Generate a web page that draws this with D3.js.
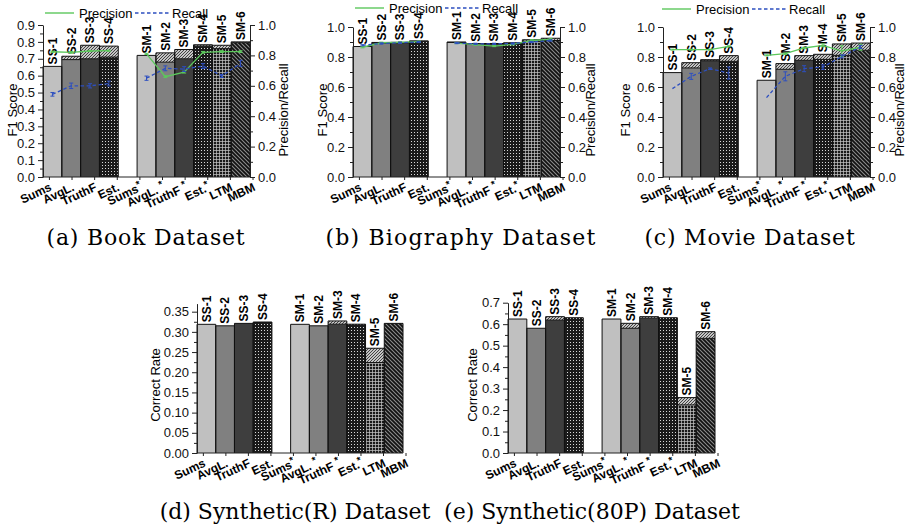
<!DOCTYPE html>
<html>
<head>
<meta charset="utf-8">
<script src="https://cdn.jsdelivr.net/npm/d3@7/dist/d3.min.js"></script>
<style>
body { margin: 0; background: #fff; }
</style>
</head>
<body>
<script>
// slot order on every x axis: 4 single-source bars, one empty slot, 6 multi-source bars
var slots = ["SS-1", "SS-2", "SS-3", "SS-4", "", "SM-1", "SM-2", "SM-3", "SM-4", "SM-5", "SM-6"];
var xLabels = ["Sums", "AvgL.", "TruthF", "Est.", "Sums", "AvgL. ", "TruthF ", "Est.", "LTM", "MBM"];
var xStar = [0, 0, 0, 0, 1, 1, 1, 1, 0, 0];

// (a) Book dataset: F1 (lower part / top of range) and precision, recall
var bookBase = [0.655, 0.695, 0.70, 0.71, null, 0.72, 0.68, 0.70, 0.775, 0.76, 0.795];
var bookTop = [0.655, 0.715, 0.78, 0.775, null, 0.72, 0.735, 0.755, 0.783, 0.78, 0.80];
var bookPrec = [0.824, 0.82, 0.829, 0.831, null, 0.81, 0.66, 0.69, 0.82, 0.825, 0.825];
var bookPrecErr = [0.004, 0.006, 0.004, 0.004, null, 0.004, 0.006, 0.006, 0.006, 0.006, 0.006];
var bookRec = [0.544, 0.60, 0.60, 0.615, null, 0.65, 0.715, 0.71, 0.73, 0.665, 0.748];
var bookRecErr = [0.012, 0.018, 0.014, 0.016, null, 0.014, 0.016, 0.016, 0.016, 0.01, 0.02];

// (b) Biography dataset
var bioBase = [0.87, 0.892, 0.895, 0.905, null, 0.897, 0.886, 0.888, 0.89, 0.905, 0.91];
var bioTop = [0.87, 0.897, 0.898, 0.907, null, 0.90, 0.889, 0.89, 0.895, 0.915, 0.925];
var bioPrec = [0.865, 0.895, 0.898, 0.903, null, 0.893, 0.882, 0.873, 0.884, 0.91, 0.918];
var bioPrecErr = [0.004, 0.004, 0.004, 0.004, null, 0.004, 0.004, 0.004, 0.004, 0.006, 0.006];
var bioRec = [0.878, 0.89, 0.895, 0.90, null, 0.893, 0.888, 0.888, 0.89, 0.90, 0.91];
var bioRecErr = [0.004, 0.004, 0.004, 0.004, null, 0.004, 0.004, 0.004, 0.004, 0.004, 0.004];

// (c) Movie dataset
var movieBase = [0.696, 0.727, 0.775, 0.771, null, 0.645, 0.718, 0.778, 0.784, 0.811, 0.845];
var movieTop = [0.696, 0.762, 0.782, 0.809, null, 0.645, 0.756, 0.809, 0.818, 0.887, 0.893];
var moviePrec = [0.849, 0.849, 0.849, 0.871, null, 0.811, 0.822, 0.86, 0.878, 0.84, 0.865];
var moviePrecErr = [0.003, 0.003, 0.003, 0.004, null, 0.003, 0.005, 0.005, 0.01, 0.035, 0.02];
var movieRec = [0.589, 0.671, 0.722, 0.693, null, 0.529, 0.671, 0.722, 0.733, 0.804, 0.867];
var movieRecErr = [0, 0.02, 0.005, 0.04, null, 0, 0.03, 0.02, 0.015, 0.01, 0.01];

// (d) Synthetic(R) and (e) Synthetic(80P): correct rate
var synRBase = [0.3187, 0.315, 0.321, 0.3244, null, 0.3187, 0.315, 0.319, 0.319, 0.224, 0.321];
var synRTop = [0.3187, 0.315, 0.321, 0.3244, null, 0.3187, 0.315, 0.327, 0.319, 0.2594, 0.321];
var syn80Base = [0.624, 0.581, 0.619, 0.630, null, 0.624, 0.581, 0.628, 0.630, 0.224, 0.534];
var syn80Top = [0.624, 0.581, 0.635, 0.630, null, 0.624, 0.604, 0.635, 0.630, 0.258, 0.565];

// tick values
var ticksBook = [0, 0.1, 0.2, 0.3, 0.4, 0.5, 0.6, 0.7, 0.8, 0.9];
var minorBook = [0.05, 0.15, 0.25, 0.35, 0.45, 0.55, 0.65, 0.75, 0.85];
var ticksUnit = [0, 0.2, 0.4, 0.6, 0.8, 1.0];
var minorUnit = [0.1, 0.3, 0.5, 0.7, 0.9];
var ticksSynR = [0, 0.05, 0.10, 0.15, 0.20, 0.25, 0.30, 0.35];
var minorSynR = [0.025, 0.075, 0.125, 0.175, 0.225, 0.275, 0.325];
var ticksSyn80 = [0, 0.1, 0.2, 0.3, 0.4, 0.5, 0.6, 0.7];
var minorSyn80 = [0.05, 0.15, 0.25, 0.35, 0.45, 0.55, 0.65];

// base colour and texture overlay of each slot
var slotFill = ["#c0c0c0", "#808080", "#3e3e3e", "#1a1a1a", "none",
                "#c0c0c0", "#808080", "#3e3e3e", "#1a1a1a", "#1a1a1a", "#8c8c8c"];
var slotTexture = [null, null, null, "pEst", null, null, null, null, "pEst", "pLtm", "pMbm"];
var precColor = "#5cc85c", recColor = "#2d4fc0";
var sans = "'Liberation Sans', Arial, sans-serif";

var panels = [
    {title: "(a) Book Dataset", tx: 146, ty: 245, spacing: 0.8, x0: 43, x1: 250, yTop: 25, yBot: 177, yMax: 0.9,
     ticks: ticksBook, minor: minorBook, fmt: ".1f", yLabel: "F1 Score", yLabelX: 12, yLabelY: 110,
     base: bookBase, top: bookTop, prec: bookPrec, precErr: bookPrecErr, rec: bookRec, recErr: bookRecErr,
     rightX: 283, legendX: 45, legendY: 13},
    {title: "(b) Biography Dataset", tx: 461, ty: 245, spacing: 1.2, x0: 353, x1: 560, yTop: 27, yBot: 177, yMax: 1.0,
     ticks: ticksUnit, minor: minorUnit, fmt: ".1f", yLabel: "F1 Score", yLabelX: 322, yLabelY: 110,
     base: bioBase, top: bioTop, prec: bioPrec, precErr: bioPrecErr, rec: bioRec, recErr: bioRecErr,
     rightX: 590, legendX: 355, legendY: 8},
    {title: "(c) Movie Dataset", tx: 750, ty: 245, spacing: 0.8, x0: 663, x1: 870, yTop: 27, yBot: 177, yMax: 1.0,
     ticks: ticksUnit, minor: minorUnit, fmt: ".1f", yLabel: "F1 Score", yLabelX: 625, yLabelY: 110,
     base: movieBase, top: movieTop, prec: moviePrec, precErr: moviePrecErr, rec: movieRec, recErr: movieRecErr,
     rightX: 899, legendX: 662, legendY: 9},
    {title: "(d) Synthetic(R) Dataset", tx: 295, ty: 519, spacing: 0, x0: 197, x1: 403, yTop: 303.6, yBot: 453, yMax: 0.37,
     ticks: ticksSynR, minor: minorSynR, fmt: ".2f", yLabel: "Correct Rate", yLabelX: 155, yLabelY: 385,
     base: synRBase, top: synRTop},
    {title: "(e) Synthetic(80P) Dataset", tx: 592, ty: 519, spacing: 0, x0: 508, x1: 715, yTop: 302.7, yBot: 453, yMax: 0.7,
     ticks: ticksSyn80, minor: minorSyn80, fmt: ".1f", yLabel: "Correct Rate", yLabelX: 472, yLabelY: 385,
     base: syn80Base, top: syn80Top}
];

var svg = d3.select("body").append("svg")
    .attr("width", 909)
    .attr("height", 528);

// textures: only the marks, drawn over a solid base colour
var defs = svg.append("defs");

var pEst = defs.append("pattern").attr("id", "pEst").attr("patternUnits", "userSpaceOnUse")
    .attr("width", 3).attr("height", 3);
pEst.append("rect").attr("width", 1).attr("height", 1).attr("fill", "#d8d8d8");

var pLtm = defs.append("pattern").attr("id", "pLtm").attr("patternUnits", "userSpaceOnUse")
    .attr("width", 3).attr("height", 3);
pLtm.append("rect").attr("width", 3).attr("height", 0.7).attr("fill", "#c8c8c8");
pLtm.append("rect").attr("width", 0.7).attr("height", 3).attr("fill", "#c8c8c8");

var pMbm = defs.append("pattern").attr("id", "pMbm").attr("patternUnits", "userSpaceOnUse")
    .attr("width", 4).attr("height", 4);
pMbm.append("path").attr("d", "M0,0L4,4M-1,3L1,5M3,-1L5,1")
    .attr("stroke", "#111").attr("stroke-width", 1.8);

var pHatch = defs.append("pattern").attr("id", "pHatch").attr("patternUnits", "userSpaceOnUse")
    .attr("width", 3).attr("height", 3);
pHatch.append("path").attr("d", "M0,3L3,0M-1,1L1,-1M2,4L4,2")
    .attr("stroke", "#333").attr("stroke-width", 0.9);

panels.forEach(drawPanel);

function drawPanel(p) {
    var g = svg.append("g");

    var x = d3.scaleBand()
        .domain(d3.range(slots.length))
        .range([p.x0, p.x1]);

    var y = d3.scaleLinear()
        .domain([0, p.yMax])
        .range([p.yBot, p.yTop]);

    var bars = slots.map(function(s, i) {
        return {i: i, id: s, base: p.base[i], top: p.top[i]};
    }).filter(function(d) { return d.base != null; });

    // main part of each bar: solid colour, then texture
    g.selectAll(".bar")
        .data(bars)
        .enter()
        .append("rect")
        .attr("x", function(d) { return x(d.i); })
        .attr("width", x.bandwidth())
        .attr("y", function(d) { return y(d.base); })
        .attr("height", function(d) { return y(0) - y(d.base); })
        .attr("fill", function(d) { return slotFill[d.i]; });

    g.selectAll(".tex")
        .data(bars.filter(function(d) { return slotTexture[d.i]; }))
        .enter()
        .append("rect")
        .attr("x", function(d) { return x(d.i); })
        .attr("width", x.bandwidth())
        .attr("y", function(d) { return y(d.base); })
        .attr("height", function(d) { return y(0) - y(d.base); })
        .attr("fill", function(d) { return "url(#" + slotTexture[d.i] + ")"; });

    // hatched range on top
    var rng = bars.filter(function(d) { return d.top > d.base; });
    g.selectAll(".range")
        .data(rng)
        .enter()
        .append("rect")
        .attr("x", function(d) { return x(d.i); })
        .attr("width", x.bandwidth())
        .attr("y", function(d) { return y(d.top); })
        .attr("height", function(d) { return y(d.base) - y(d.top); })
        .attr("fill", "#c4c4c4");
    g.selectAll(".rangetex")
        .data(rng)
        .enter()
        .append("rect")
        .attr("x", function(d) { return x(d.i); })
        .attr("width", x.bandwidth())
        .attr("y", function(d) { return y(d.top); })
        .attr("height", function(d) { return y(d.base) - y(d.top); })
        .attr("fill", "url(#pHatch)");

    // outlines
    g.selectAll(".outline")
        .data(bars)
        .enter()
        .append("path")
        .attr("d", function(d) {
            var l = x(d.i), r = x(d.i) + x.bandwidth();
            var s = "M" + l + "," + y(0) + "V" + y(d.top) + "H" + r + "V" + y(0);
            if (d.top > d.base) s += "M" + l + "," + y(d.base) + "H" + r;
            return s;
        })
        .attr("fill", "none")
        .attr("stroke", "#111")
        .attr("stroke-width", 1);

    // bar names above the bars
    g.selectAll(".barlabel")
        .data(bars)
        .enter()
        .append("text")
        .attr("transform", function(d) {
            return "translate(" + (x(d.i) + x.bandwidth() / 2 + 4.3) + "," + (y(d.top) - 2) + ") rotate(-90)";
        })
        .style("font-family", sans)
        .attr("font-size", 12)
        .attr("font-weight", "bold")
        .text(function(d) { return d.id; });

    // left axis
    g.append("g")
        .attr("transform", "translate(" + p.x0 + ",0)")
        .call(d3.axisLeft(y).tickValues(p.ticks).tickSize(5).tickSizeOuter(0).tickFormat(d3.format(p.fmt)))
        .call(styleAxis);
    g.append("g")
        .attr("transform", "translate(" + p.x0 + ",0)")
        .call(d3.axisLeft(y).tickValues(p.minor).tickSize(3).tickFormat(""))
        .call(function(a) { a.select(".domain").remove(); })
        .call(styleAxis);

    g.append("text")
        .attr("transform", "translate(" + (p.yLabelX + 4.5) + "," + p.yLabelY + ") rotate(-90)")
        .attr("text-anchor", "middle")
        .style("font-family", sans)
        .attr("font-size", 13)
        .text(p.yLabel);

    // bottom axis with the method names
    var xl = d3.scalePoint()
        .domain(d3.range(xLabels.length))
        .range([x(0) + x.bandwidth() / 2, p.x1 + 6]);

    g.append("line")
        .attr("x1", p.x0).attr("x2", p.x1)
        .attr("y1", p.yBot).attr("y2", p.yBot)
        .attr("stroke", "#222");

    g.selectAll(".xtick")
        .data(xLabels)
        .enter()
        .append("line")
        .attr("x1", function(d, i) { return xl(i) - 3; })
        .attr("x2", function(d, i) { return xl(i) - 3; })
        .attr("y1", p.yBot).attr("y2", p.yBot + 3)
        .attr("stroke", "#222");

    var xt = g.selectAll(".xlabel")
        .data(xLabels)
        .enter()
        .append("text")
        .attr("transform", function(d, i) {
            return "translate(" + xl(i) + "," + (p.yBot + 13) + ") rotate(-25)";
        })
        .attr("text-anchor", "end")
        .style("font-family", sans)
        .attr("font-size", 12)
        .attr("font-weight", "bold");
    xt.append("tspan").text(function(d) { return d; });
    xt.filter(function(d, i) { return xStar[i]; })
        .append("tspan")
        .attr("dy", -4)
        .attr("font-size", 10)
        .text("*");

    // precision / recall on the right axis
    if (p.prec) {
        var y2 = d3.scaleLinear()
            .domain([0, 1])
            .range([p.yBot, p.yTop]);

        g.append("g")
            .attr("transform", "translate(" + p.x1 + ",0)")
            .call(d3.axisRight(y2).tickValues(ticksUnit).tickSize(5).tickSizeOuter(0).tickFormat(d3.format(".1f")))
            .call(styleAxis);
        g.append("g")
            .attr("transform", "translate(" + p.x1 + ",0)")
            .call(d3.axisRight(y2).tickValues(minorUnit).tickSize(3).tickFormat(""))
            .call(function(a) { a.select(".domain").remove(); })
            .call(styleAxis);

        g.append("text")
            .attr("transform", "translate(" + (p.rightX + 4.5) + "," + p.yLabelY + ") rotate(-90)")
            .attr("text-anchor", "middle")
            .style("font-family", sans)
            .attr("font-size", 13)
            .text("Precision/Recall");

        drawSeries(g, x, y2, p.prec, p.precErr, precColor, null);
        drawSeries(g, x, y2, p.rec, p.recErr, recColor, "3.5,2.5");

        // legend
        var lg = g.append("g").attr("transform", "translate(" + p.legendX + "," + p.legendY + ")");
        lg.append("line").attr("x1", 0).attr("x2", 29).attr("y1", 0).attr("y2", 0)
            .attr("stroke", precColor).attr("stroke-width", 1.4);
        lg.append("text").attr("x", 34).attr("y", 4.5).style("font-family", sans)
            .attr("font-size", 13).text("Precision");
        lg.append("line").attr("x1", 90).attr("x2", 125).attr("y1", 0).attr("y2", 0)
            .attr("stroke", recColor).attr("stroke-width", 1.3).attr("stroke-dasharray", "3.5,2.5");
        lg.append("text").attr("x", 127).attr("y", 4.5).style("font-family", sans)
            .attr("font-size", 13).text("Recall");
    }

    g.append("text")
        .attr("x", p.tx)
        .attr("y", p.ty)
        .attr("text-anchor", "middle")
        .style("font-family", "'DejaVu Serif', serif")
        .style("letter-spacing", p.spacing + "px")
        .attr("font-size", 22)
        .text(p.title);
}

function drawSeries(g, x, y2, vals, errs, color, dash) {
    var pts = vals.map(function(v, i) { return {i: i, v: v, e: errs[i]}; });
    var line = d3.line()
        .defined(function(d) { return d.v != null; })
        .x(function(d) { return x(d.i) + x.bandwidth() / 2; })
        .y(function(d) { return y2(d.v); });

    g.append("path")
        .datum(pts)
        .attr("d", line)
        .attr("fill", "none")
        .attr("stroke", color)
        .attr("stroke-width", 1.3)
        .attr("stroke-dasharray", dash);

    g.selectAll(null)
        .data(pts.filter(function(d) { return d.v != null && d.e > 0; }))
        .enter()
        .append("path")
        .attr("d", function(d) {
            var cx = x(d.i) + x.bandwidth() / 2;
            var a = y2(d.v + d.e), b = y2(d.v - d.e);
            return "M" + (cx - 2) + "," + a + "H" + (cx + 2) + "M" + cx + "," + a + "V" + b +
                   "M" + (cx - 2) + "," + b + "H" + (cx + 2);
        })
        .attr("fill", "none")
        .attr("stroke", color)
        .attr("stroke-width", 1);
}

function styleAxis(a) {
    a.selectAll(".domain").attr("stroke", "#222");
    a.selectAll(".tick line").attr("stroke", "#222");
    a.selectAll(".tick text")
        .attr("font-size", 13)
        .attr("fill", "#111")
        .attr("font-family", sans);
}
</script>
</body>
</html>
